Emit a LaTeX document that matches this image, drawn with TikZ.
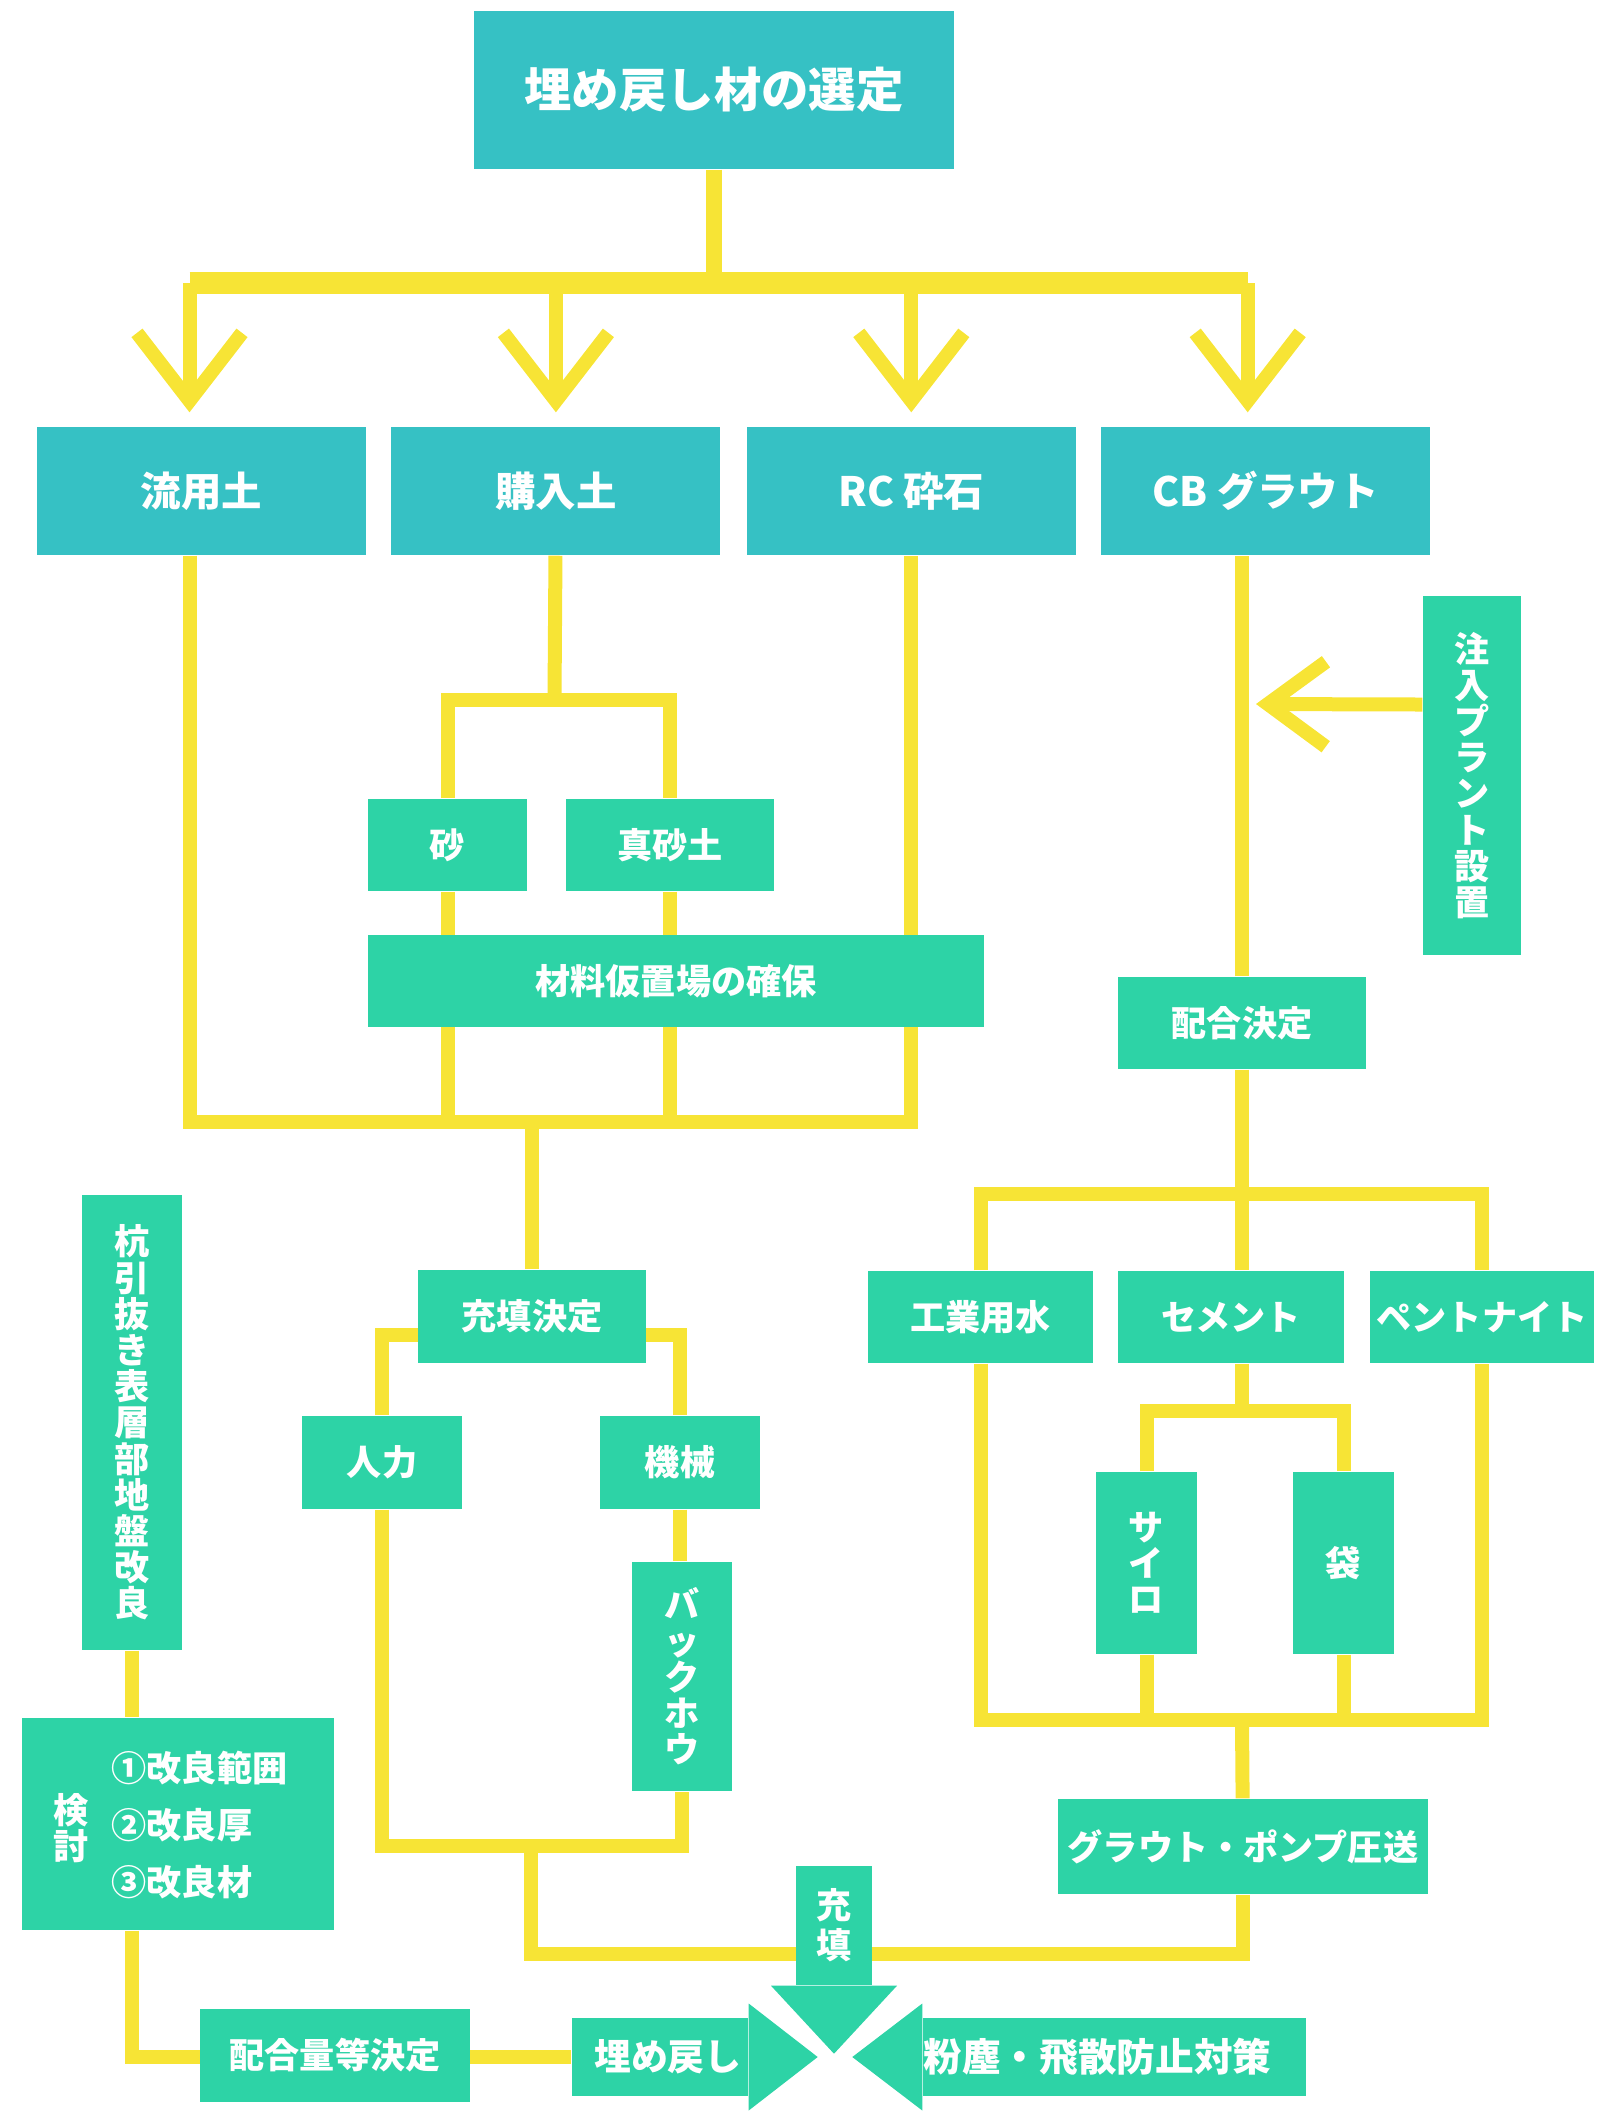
\documentclass[tikz,border=0pt]{standalone}
\usepackage{fontspec}
\setmainfont{Noto Sans CJK JP}
\usepackage{tikz}
\usetikzlibrary{positioning,calc,arrows.meta,backgrounds}
\definecolor{boxteal}{HTML}{36C1C4}
\definecolor{boxgreen}{HTML}{2DD3A6}
\definecolor{chalkyellow}{HTML}{F7E435}
\tikzstyle{topbox} = [rectangle, fill=boxteal, text=white, inner sep=0pt, minimum width=3.29cm, minimum height=1.28cm, font=\fontsize{11.5}{13}\selectfont\bfseries]
\tikzstyle{greenbox} = [rectangle, fill=boxgreen, text=white, inner sep=0pt, align=center, font=\fontsize{10}{10.3}\selectfont\bfseries]
\tikzstyle{boxtext} = [text=white, inner sep=0pt, font=\fontsize{10}{10.3}\selectfont\bfseries]
\tikzstyle{chalk} = [draw=chalkyellow, line width=1.4mm]
\tikzstyle{chalkto} = [chalk, -{Straight Barb[length=6.8mm,width=10.5mm]}, shorten >=1.4mm]
\tikzstyle{plantto} = [chalk, -{Straight Barb[length=5.8mm,width=8.5mm]}]

\begin{document}
\begin{tikzpicture}[x=0.1mm, y=-0.1mm]
		\useasboundingbox (0,0) rectangle (1600,2124);
		% selection and the four materials
		\node (sel) [topbox, minimum width=4.8cm, minimum height=1.58cm, font=\fontsize{13.5}{16}\selectfont\bfseries] at (714,90) {埋め戻し材の選定};
		\node (ryu) [topbox] at (201.5,491) {流用土};
		\node (kon) [topbox, right=2.4mm of ryu] {購入土};
		\node (rc) [topbox, right=2.5mm of kon] {RC 砕石};
		\node (cb) [topbox, right=2.4mm of rc] {CB グラウト};
		% soil side
		\node (suna) [greenbox, minimum width=1.59cm, minimum height=0.92cm] at (447.5,845) {砂};
		\node (masa) [greenbox, minimum width=2.08cm, minimum height=0.92cm] at (670,845) {真砂土};
		\node (okiba) [greenbox, minimum width=6.16cm, minimum height=0.92cm] at (676,981) {材料仮置場の確保};
		\node (juten) [greenbox, minimum width=2.28cm, minimum height=0.93cm] at (532,1316.5) {充填決定};
		\node (jinryoku) [greenbox, minimum width=1.6cm, minimum height=0.93cm] at (382,1462.5) {人力};
		\node (kikai) [greenbox, minimum width=1.6cm, minimum height=0.93cm] at (680,1462.5) {機械};
		\node (backhoe) [greenbox, minimum width=1cm, minimum height=2.29cm] at (682,1676.5) {バ\\ッ\\ク\\ホ\\ウ};
		% grout side
		\node (plant) [greenbox, minimum width=0.98cm, minimum height=3.59cm] at (1472,775.5) {注\\入\\プ\\ラ\\ン\\ト\\設\\置};
		\node (haigo) [greenbox, minimum width=2.48cm, minimum height=0.92cm] at (1242,1023) {配合決定};
		\node (kogyo) [greenbox, minimum width=2.25cm, minimum height=0.92cm] at (980.5,1317) {工業用水};
		\node (cement) [greenbox, minimum width=2.26cm, minimum height=0.92cm] at (1231,1317) {セメント};
		\node (bento) [greenbox, minimum width=2.24cm, minimum height=0.92cm] at (1482,1317) {ペントナイト};
		\node (silo) [greenbox, minimum width=1.01cm, minimum height=1.82cm] at (1146.5,1563) {サ\\イ\\ロ};
		\node (fukuro) [greenbox, minimum width=1.01cm, minimum height=1.82cm] at (1343.5,1563) {袋};
		\node (pump) [greenbox, minimum width=3.7cm, minimum height=0.95cm] at (1243,1846.5) {グラウト・ポンプ圧送};
		% ground improvement
		\node (kui) [greenbox, minimum width=1cm, minimum height=4.55cm] at (132,1422.5) {杭\\引\\抜\\き\\表\\層\\部\\地\\盤\\改\\良};
		\node (kento) [greenbox, minimum width=3.12cm, minimum height=2.12cm] at (178,1824) {};
		\node (kentolbl) [boxtext, align=center] at (71,1828) {検\\討};
		\node (kairyo) [boxtext, anchor=west, align=left, font=\fontsize{10}{16.2}\selectfont\bfseries] at (111,1825) {①改良範囲\\②改良厚\\③改良材};
		\node (haigoryo) [greenbox, minimum width=2.7cm, minimum height=0.93cm] at (335,2055) {配合量等決定};
		% backfill arrows
		\node (jutenarrow) [greenbox, minimum width=0.76cm, minimum height=1.19cm, font=\fontsize{10}{11.4}\selectfont\bfseries] at (834,1925.5) {充\\填};
		\node (umemodoshi) [greenbox, minimum width=1.76cm, minimum height=0.78cm, font=\fontsize{10.5}{12}\selectfont\bfseries] at (660,2057) {\hspace*{1.6mm}埋め戻し};
		\node (funjin) [greenbox, minimum width=3.83cm, minimum height=0.78cm, font=\fontsize{11}{13}\selectfont\bfseries] at (1114.5,2057) {粉塵・飛散防止対策\hspace*{3.4mm}};
		\fill[boxgreen] ([xshift=-6.3mm]jutenarrow.south) -- ([xshift=6.3mm]jutenarrow.south) -- ([yshift=-6.8mm]jutenarrow.south) -- cycle;
		\fill[boxgreen] ([yshift=5.35mm]umemodoshi.east) -- ([xshift=6.9mm]umemodoshi.east) -- ([yshift=-5.35mm]umemodoshi.east) -- cycle;
		\fill[boxgreen] ([yshift=5.35mm]funjin.west) -- ([xshift=-7mm]funjin.west) -- ([yshift=-5.35mm]funjin.west) -- cycle;

		\begin{scope}[on background layer]
		\coordinate (branch) at (714,283);
		\coordinate (ryuin) at ([xshift=-1.2mm]ryu.north);
		\coordinate (cbin) at ([xshift=-1.8mm]cb.north);
		\draw[chalk, line width=1.6mm] (sel) -- (branch);
		\draw[chalk, line width=2.2mm] (ryuin |- branch) -- (cbin |- branch);
		\draw[chalkto] (ryuin |- branch) -- (ryuin);
		\draw[chalkto] (kon |- branch) -- (kon.north);
		\draw[chalkto] (rc |- branch) -- (rc.north);
		\draw[chalkto] (cbin |- branch) -- (cbin);
		% soils
		\coordinate (kounyusplit) at (554.5,700);
		\draw[chalk] (kon) -- (kounyusplit);
		\draw[chalk] (suna) |- (kounyusplit) -| (masa);
		\coordinate (gather) at (532,1122);
		\draw[chalk] (ryuin |- ryu.south) |- (gather) -| (rc);
		\draw[chalk] (suna) -- (suna |- gather);
		\draw[chalk] (masa) -- (masa |- gather);
		\draw[chalk] (gather) -- (juten);
		\draw[chalk] (jinryoku) |- ([yshift=-1.8mm]juten.center) -| (kikai);
		\coordinate (handsplit) at (531,1846);
		\draw[chalk] (jinryoku) |- (handsplit) -| (backhoe);
		\draw[chalk] (kikai) -- (kikai |- backhoe.north);
		\coordinate (mergefill) at (531,1954);
		\draw[chalk] (handsplit) -- (mergefill) -| (pump);
		% grout
		\draw[chalk] (haigo) -- (haigo |- cb.south);
		\coordinate (plantin) at (1256,704);
		\draw[plantto] ([yshift=7.1mm]plant.west) -- (plantin);
		\coordinate (mixsplit) at (1242,1194);
		\draw[chalk] (haigo) -- (haigo |- cement.north);
		\draw[chalk] (kogyo) |- (mixsplit) -| (bento);
		\coordinate (cemsplit) at (1242,1411);
		\draw[chalk] (cemsplit |- cement.south) -- (cemsplit);
		\draw[chalk] (silo) |- (cemsplit) -| (fukuro);
		\coordinate (mixjoin) at (1242,1720);
		\draw[chalk] (kogyo) |- (mixjoin) -| (bento);
		\draw[chalk] (silo) -- (silo |- mixjoin);
		\draw[chalk] (fukuro) -- (fukuro |- mixjoin);
		\draw[chalk] (mixjoin) -- (pump);
		% ground improvement
		\draw[chalk] (kui) -- (kui |- kento.north);
		\draw[chalk] (kui |- kento.south) |- (umemodoshi);
		\end{scope}
\end{tikzpicture}
\end{document}
